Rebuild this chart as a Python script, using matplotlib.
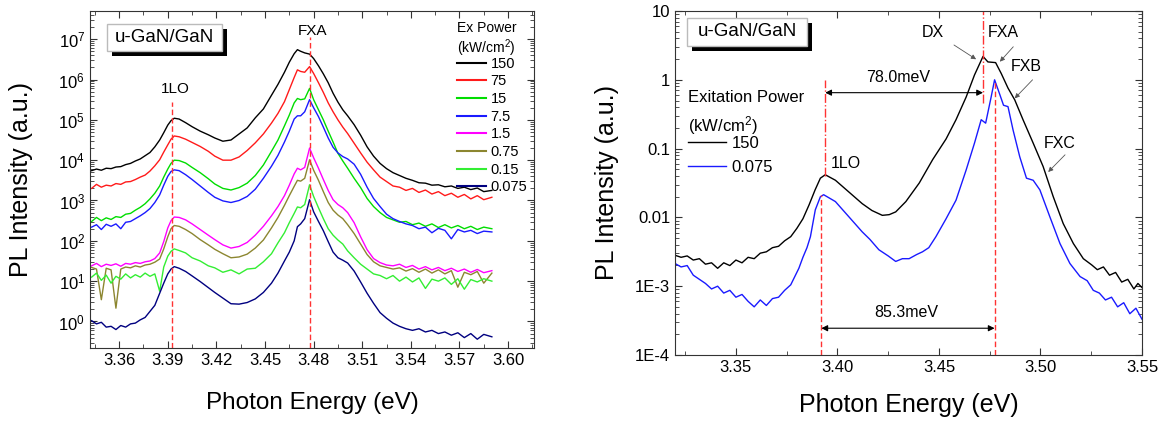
import numpy as np
import matplotlib
matplotlib.use("Agg")
import matplotlib.pyplot as plt
from matplotlib.ticker import MultipleLocator, FixedLocator, FixedFormatter, LogLocator, NullFormatter
from matplotlib.lines import Line2D
from matplotlib.patches import Rectangle

plt.rcParams['font.family'] = ['Liberation Sans', 'DejaVu Sans']
plt.rcParams['mathtext.default'] = 'regular'

# ---- left panel: PL spectra vs excitation power (log10 of intensity)
energy_a = [3.343, 3.346, 3.349, 3.352, 3.355, 3.358, 3.361, 3.364, 3.367, 3.370,
            3.373, 3.376, 3.379, 3.382, 3.385, 3.3875, 3.390, 3.392, 3.394, 3.397,
            3.401, 3.405, 3.410, 3.415, 3.419, 3.424, 3.429, 3.434, 3.439, 3.444,
            3.449, 3.454, 3.458, 3.462, 3.465, 3.468, 3.470, 3.472, 3.4745, 3.4775,
            3.480, 3.483, 3.486, 3.489, 3.492, 3.495, 3.498, 3.501, 3.505, 3.509,
            3.513, 3.517, 3.521, 3.525, 3.529, 3.533, 3.537, 3.541, 3.545, 3.549,
            3.553, 3.557, 3.561, 3.565, 3.569, 3.573, 3.577, 3.581, 3.585, 3.590]
log_150 = [3.74, 3.78, 3.75, 3.80, 3.79, 3.83, 3.84, 3.89, 3.92, 3.98,
           4.03, 4.11, 4.19, 4.33, 4.50, 4.68, 4.87, 4.98, 5.04, 5.02,
           4.93, 4.83, 4.72, 4.63, 4.55, 4.47, 4.50, 4.65, 4.80, 5.05,
           5.27, 5.61, 5.88, 6.18, 6.43, 6.64, 6.74, 6.70, 6.66, 6.63,
           6.52, 6.34, 6.14, 5.92, 5.66, 5.44, 5.25, 5.10, 4.88, 4.62,
           4.33, 4.10, 3.92, 3.79, 3.69, 3.62, 3.55, 3.50, 3.44, 3.43,
           3.38, 3.39, 3.34, 3.36, 3.30, 3.33, 3.27, 3.31, 3.22, 3.25]
log_75 = [3.30, 3.40, 3.33, 3.38, 3.36, 3.42, 3.40, 3.46, 3.47, 3.52,
          3.58, 3.63, 3.73, 3.86, 4.01, 4.20, 4.38, 4.52, 4.60, 4.58,
          4.52, 4.44, 4.34, 4.22, 4.10, 4.00, 4.00, 4.08, 4.24, 4.43,
          4.65, 4.92, 5.16, 5.45, 5.75, 6.05, 6.24, 6.20, 6.18, 6.32,
          6.15, 5.92, 5.68, 5.42, 5.20, 5.00, 4.82, 4.66, 4.42, 4.18,
          3.95, 3.76, 3.58, 3.47, 3.36, 3.33, 3.25, 3.30, 3.20, 3.26,
          3.16, 3.22, 3.12, 3.18, 3.08, 3.15, 3.04, 3.12, 3.02, 3.08]
log_15 = [2.48, 2.58, 2.50, 2.57, 2.53, 2.60, 2.58, 2.66, 2.68, 2.76,
          2.83, 2.92, 3.04, 3.18, 3.36, 3.58, 3.78, 3.92, 4.00, 3.99,
          3.93, 3.82, 3.69, 3.54, 3.41, 3.30, 3.26, 3.32, 3.43, 3.62,
          3.88, 4.22, 4.50, 4.85, 5.12, 5.42, 5.53, 5.50, 5.52, 5.78,
          5.50, 5.25, 5.00, 4.72, 4.45, 4.17, 3.98, 3.80, 3.55, 3.32,
          3.05, 2.85, 2.70, 2.58, 2.52, 2.46, 2.48, 2.40, 2.44, 2.36,
          2.42, 2.33, 2.40, 2.32, 2.38, 2.30, 2.36, 2.28, 2.34, 2.30]
log_7p5 = [2.34, 2.40, 2.28, 2.41, 2.36, 2.42, 2.30, 2.46, 2.48, 2.55,
           2.62, 2.70, 2.80, 2.95, 3.14, 3.38, 3.60, 3.72, 3.76, 3.74,
           3.64, 3.52, 3.36, 3.20, 3.08, 2.99, 2.95, 3.00, 3.10, 3.28,
           3.55, 3.85, 4.12, 4.45, 4.72, 5.02, 5.10, 5.10, 5.20, 5.50,
           5.30, 5.08, 4.82, 4.55, 4.32, 4.18, 4.09, 4.03, 3.90, 3.65,
           3.33, 3.05, 2.85, 2.66, 2.55, 2.48, 2.42, 2.38, 2.30, 2.34,
           2.20, 2.31, 2.26, 2.05, 2.28, 2.22, 2.26, 2.18, 2.24, 2.22]
log_1p5 = [1.38, 1.44, 1.36, 1.42, 1.39, 1.43, 1.37, 1.44, 1.42, 1.46,
           1.44, 1.48, 1.50, 1.56, 1.70, 1.98, 2.32, 2.50, 2.59, 2.58,
           2.52, 2.42, 2.28, 2.14, 2.03, 1.90, 1.82, 1.86, 1.96, 2.14,
           2.36, 2.62, 2.85, 3.12, 3.38, 3.66, 3.80, 3.76, 3.82, 4.30,
           4.06, 3.80, 3.52, 3.25, 3.02, 2.90, 2.82, 2.70, 2.45, 2.10,
           1.78, 1.56, 1.46, 1.40, 1.38, 1.42, 1.34, 1.39, 1.30, 1.36,
           1.28, 1.34, 1.26, 1.32, 1.24, 1.30, 1.22, 1.29, 1.21, 1.26]
log_0p75 = [1.34, 1.30, 0.54, 1.32, 1.28, 0.33, 1.30, 1.35, 1.33, 1.38,
            1.35, 1.40, 1.42, 1.47, 1.55, 1.80, 2.10, 2.30, 2.38, 2.36,
            2.28, 2.18, 2.03, 1.90, 1.79, 1.68, 1.58, 1.60, 1.67, 1.82,
            2.02, 2.32, 2.58, 2.88, 3.12, 3.35, 3.50, 3.48, 3.55, 4.01,
            3.75, 3.50, 3.22, 2.95, 2.76, 2.64, 2.55, 2.40, 2.18, 1.92,
            1.66, 1.48, 1.38, 1.34, 1.30, 1.33, 1.25, 1.31, 1.22, 1.30,
            1.20, 1.28, 1.18, 1.26, 0.85, 1.22, 1.16, 1.24, 0.95, 1.20]
log_0p15 = [1.10, 1.20, 1.02, 1.15, 0.95, 1.12, 1.05, 1.18, 1.08, 1.16,
            1.10, 1.20, 1.12, 1.18, 0.75, 1.35, 1.62, 1.74, 1.80, 1.76,
            1.70, 1.58, 1.50, 1.38, 1.33, 1.22, 1.28, 1.18, 1.30, 1.32,
            1.48, 1.68, 1.95, 2.20, 2.45, 2.68, 2.84, 2.82, 2.90, 3.39,
            3.10, 2.82, 2.55, 2.30, 2.14, 2.02, 1.92, 1.75, 1.58, 1.42,
            1.30, 1.18, 1.14, 1.06, 1.14, 1.00, 1.10, 0.98, 1.08, 0.82,
            1.05, 1.00, 1.08, 0.92, 1.06, 0.80, 1.04, 0.98, 1.06, 1.00]
log_0p075 = [0.02, -0.06, -0.02, -0.14, -0.12, -0.20, -0.10, -0.14, -0.06, -0.04,
             0.04, 0.10, 0.25, 0.40, 0.70, 0.95, 1.18, 1.30, 1.36, 1.32,
             1.24, 1.13, 0.99, 0.84, 0.72, 0.58, 0.44, 0.43, 0.47, 0.56,
             0.72, 0.95, 1.20, 1.50, 1.72, 2.00, 2.35, 2.42, 2.55, 3.02,
             2.72, 2.48, 2.25, 1.98, 1.72, 1.58, 1.52, 1.45, 1.25, 0.98,
             0.70, 0.45, 0.22, 0.08, -0.04, -0.12, -0.18, -0.22, -0.18, -0.26,
             -0.22, -0.30, -0.26, -0.34, -0.28, -0.40, -0.30, -0.44, -0.32, -0.38]
powers_a = ['150', '75', '15', '7.5', '1.5', '0.75', '0.15', '0.075']
colors_a = ['black', '#ff1a1a', '#00dd00', '#1a1aff', '#ff00ff', '#8c8630', '#33ee33', '#000080']
series_a = [log_150, log_75, log_15, log_7p5, log_1p5, log_0p75, log_0p15, log_0p075]

# ---- right panel: two powers
energy_b150 = [3.3200, 3.3230, 3.3260, 3.3290, 3.3320, 3.3350, 3.3380, 3.3410, 3.3440, 3.3470,
               3.3500, 3.3530, 3.3560, 3.3590, 3.3620, 3.3650, 3.3680, 3.3710, 3.3740, 3.3770,
               3.3800, 3.3830, 3.3860, 3.3890, 3.3916, 3.3940, 3.3990, 3.4056, 3.4122, 3.4170,
               3.4221, 3.4255, 3.4287, 3.4337, 3.4403, 3.4469, 3.4535, 3.4584, 3.4634, 3.4675,
               3.4717, 3.4741, 3.4779, 3.4807, 3.4840, 3.4873, 3.4914, 3.4964, 3.5013, 3.5063,
               3.5112, 3.5162, 3.5211, 3.5252, 3.5280, 3.5310, 3.5340, 3.5370, 3.5400, 3.5430,
               3.5460, 3.5480, 3.5500]
log_b150 = [-2.55, -2.58, -2.56, -2.62, -2.60, -2.68, -2.66, -2.74, -2.66, -2.70,
            -2.62, -2.66, -2.58, -2.60, -2.52, -2.50, -2.44, -2.42, -2.34, -2.28,
            -2.16, -2.02, -1.82, -1.60, -1.43, -1.38, -1.46, -1.63, -1.80, -1.90,
            -1.97, -1.96, -1.92, -1.77, -1.50, -1.16, -0.86, -0.58, -0.25, 0.07,
            0.34, 0.26, 0.25, 0.09, -0.12, -0.29, -0.58, -0.92, -1.26, -1.70,
            -2.09, -2.38, -2.60, -2.69, -2.76, -2.72, -2.84, -2.80, -2.94, -2.90,
            -3.04, -2.96, -3.02]
energy_b0075 = [3.3200, 3.3230, 3.3260, 3.3290, 3.3320, 3.3350, 3.3380, 3.3410, 3.3440, 3.3470,
                3.3500, 3.3530, 3.3560, 3.3590, 3.3620, 3.3650, 3.3680, 3.3710, 3.3740, 3.3770,
                3.3790, 3.3810, 3.3830, 3.3850, 3.3867, 3.3891, 3.3916, 3.3932, 3.3990, 3.4056,
                3.4122, 3.4160, 3.4204, 3.4250, 3.4287, 3.4320, 3.4353, 3.4390, 3.4419, 3.4450,
                3.4485, 3.4535, 3.4584, 3.4634, 3.4675, 3.4708, 3.4730, 3.4757, 3.4774, 3.4798,
                3.4818, 3.4840, 3.4865, 3.4898, 3.4931, 3.4964, 3.4997, 3.5046, 3.5096, 3.5145,
                3.5195, 3.5230, 3.5260, 3.5290, 3.5320, 3.5350, 3.5380, 3.5410, 3.5440, 3.5470,
                3.5500]
log_b0075 = [-2.67, -2.72, -2.70, -2.84, -2.90, -2.96, -3.04, -3.00, -3.10, -3.06,
             -3.16, -3.12, -3.22, -3.30, -3.20, -3.28, -3.18, -3.16, -3.06, -2.98,
             -2.86, -2.74, -2.58, -2.44, -2.28, -1.89, -1.70, -1.67, -1.77, -1.99,
             -2.21, -2.32, -2.47, -2.56, -2.64, -2.60, -2.60, -2.54, -2.50, -2.44,
             -2.28, -2.02, -1.75, -1.31, -0.92, -0.58, -0.63, -0.25, 0.00, -0.20,
             -0.37, -0.39, -0.73, -1.12, -1.43, -1.46, -1.60, -1.99, -2.38, -2.67,
             -2.86, -2.92, -3.06, -3.10, -3.20, -3.16, -3.30, -3.24, -3.40, -3.32,
             -3.48]

fig = plt.figure(figsize=(11.58, 4.24), dpi=100)
ax1 = fig.add_axes([90 / 1158, 1 - 348 / 424, 444 / 1158, 337 / 424])
ax2 = fig.add_axes([675 / 1158, 1 - 355 / 424, 467 / 1158, 344 / 424])


def add_box(ax, x0, y0, w, h, dx, dy):
    ax.add_patch(Rectangle((x0 + dx, y0 - dy), w, h, transform=ax.transAxes,
                           facecolor='black', edgecolor='none', zorder=5))
    ax.add_patch(Rectangle((x0, y0), w, h, transform=ax.transAxes,
                           facecolor='white', edgecolor='#bbbbbb', lw=1, zorder=6))
    ax.text(x0 + w / 2, y0 + h / 2, 'u-GaN/GaN', transform=ax.transAxes,
            ha='center', va='center', fontsize=13.5, zorder=7)


def style(ax):
    ax.tick_params(which='both', direction='in', top=True, right=True, labelsize=12,
                   color='#333333')
    ax.tick_params(which='major', length=5)
    ax.tick_params(which='minor', length=3)
    for s in ax.spines.values():
        s.set_color('#333333')


# left panel
for vals, c in zip(series_a, colors_a):
    ax1.plot(energy_a, 10 ** np.array(vals), color=c, lw=1.0)
ax1.set_yscale('log')
ax1.set_xlim(3.342, 3.616)
ax1.set_ylim(0.22, 5e7)
ax1.xaxis.set_major_locator(MultipleLocator(0.03))
ax1.xaxis.set_minor_locator(MultipleLocator(0.015))
ax1.xaxis.set_major_formatter(plt.FormatStrFormatter('%.2f'))
ax1.yaxis.set_major_locator(FixedLocator([10.0 ** k for k in range(0, 8)]))
ax1.yaxis.set_major_formatter(FixedFormatter([r'$10^{%d}$' % k for k in range(0, 8)]))
ax1.yaxis.set_minor_locator(LogLocator(base=10, subs=np.arange(2, 10), numticks=20))
ax1.yaxis.set_minor_formatter(NullFormatter())
style(ax1)
ax1.plot([3.3925, 3.3925], [0.22, 10 ** 5.44], color='#ff3333', lw=1, ls=(0, (4, 2)))
ax1.plot([3.4775, 3.4775], [0.22, 10 ** 7.06], color='#ff3333', lw=1, ls=(0, (4, 2)))
ax1.text(3.3944, 10 ** 5.77, '1LO', ha='center', va='center', fontsize=11)
ax1.text(3.4795, 10 ** 7.2, 'FXA', ha='center', va='center', fontsize=11)
add_box(ax1, 0.0383, 0.8813, 0.259, 0.0801, 0.0113, 0.0148)
ax1.text(0.8266, 0.950, 'Ex Power', transform=ax1.transAxes, ha='left', va='center',
         fontsize=10)
ax1.text(0.8266, 0.890, '(kW/cm$^2$)', transform=ax1.transAxes, ha='left', va='center',
         fontsize=10)
handles = [Line2D([], [], color=c, lw=1.5) for c in colors_a]
ax1.legend(handles, powers_a, loc='upper left', bbox_to_anchor=(0.8266, 0.864),
           frameon=False, fontsize=10.5, handlelength=2.0, handletextpad=0.3,
           labelspacing=0.25, borderpad=0, borderaxespad=0)
ax1.set_xlabel('Photon Energy (eV)', fontsize=17.5)
ax1.set_ylabel('PL Intensity (a.u.)', fontsize=18)
ax1.yaxis.set_label_coords(-0.128, 0.5)
ax1.xaxis.set_label_coords(0.5, -0.132)

# right panel
ax2.plot(energy_b150, 10 ** np.array(log_b150), color='black', lw=1.0)
ax2.plot(energy_b0075, 10 ** np.array(log_b0075), color='#1a1aff', lw=1.0)
ax2.set_yscale('log')
ax2.set_xlim(3.32, 3.55)
ax2.set_ylim(1e-4, 10)
ax2.xaxis.set_major_locator(MultipleLocator(0.05))
ax2.xaxis.set_minor_locator(MultipleLocator(0.025))
ax2.xaxis.set_major_formatter(plt.FormatStrFormatter('%.2f'))
ax2.yaxis.set_major_locator(FixedLocator([1e-4, 1e-3, 1e-2, 1e-1, 1, 10]))
ax2.yaxis.set_major_formatter(FixedFormatter(['1E-4', '1E-3', '0.01', '0.1', '1', '10']))
ax2.yaxis.set_minor_locator(LogLocator(base=10, subs=np.arange(2, 10), numticks=20))
ax2.yaxis.set_minor_formatter(NullFormatter())
style(ax2)
ax2.plot([3.4717, 3.4717], [10 ** -0.337, 10], color='#ff3333', lw=1, ls='-.')
ax2.plot([3.394, 3.394], [10 ** -1.40, 1.0], color='#ff3333', lw=1, ls='-.')
ax2.plot([3.3921, 3.3921], [1e-4, 10 ** -1.68], color='#ff3333', lw=1, ls=(0, (4, 2)))
ax2.plot([3.4774, 3.4774], [1e-4, 10 ** -0.03], color='#ff3333', lw=1, ls=(0, (4, 2)))
arr = dict(arrowstyle='<|-|>', color='black', lw=0.8, mutation_scale=9, shrinkA=0, shrinkB=0)
ax2.annotate('', xy=(3.394, 0.65), xytext=(3.4717, 0.65), arrowprops=arr)
ax2.annotate('', xy=(3.3921, 2.45e-4), xytext=(3.4774, 2.45e-4), arrowprops=arr)
ax2.text(3.430, 1.07, '78.0meV', ha='center', va='center', fontsize=11.5)
ax2.text(3.434, 4.1e-4, '85.3meV', ha='center', va='center', fontsize=11.5)
ax2.text(3.404, 0.06, '1LO', ha='center', va='center', fontsize=11.5)
pointer = dict(arrowstyle='-|>', color='#555555', lw=0.6, mutation_scale=7, shrinkA=0, shrinkB=0)
ax2.text(3.447, 4.8, 'DX', ha='center', va='center', fontsize=11.5)
ax2.annotate('', xy=(3.4683, 10 ** 0.298), xytext=(3.4574, 10 ** 0.506), arrowprops=pointer)
ax2.text(3.4815, 4.8, 'FXA', ha='center', va='center', fontsize=11.5)
ax2.annotate('', xy=(3.480, 10 ** 0.263), xytext=(3.4866, 10 ** 0.48), arrowprops=pointer)
ax2.text(3.4931, 1.55, 'FXB', ha='center', va='center', fontsize=11.5)
ax2.annotate('', xy=(3.4873, 10 ** -0.27), xytext=(3.4961, 10 ** 0.0), arrowprops=pointer)
ax2.text(3.5096, 0.12, 'FXC', ha='center', va='center', fontsize=11.5)
ax2.annotate('', xy=(3.5038, 10 ** -1.34), xytext=(3.5121, 10 ** -1.09), arrowprops=pointer)
add_box(ax2, 0.0257, 0.8983, 0.257, 0.0814, 0.0107, 0.0145)
ax2.text(0.028, 0.750, 'Exitation Power', transform=ax2.transAxes, ha='left', va='center',
         fontsize=12)
ax2.text(0.028, 0.668, '(kW/cm$^2$)', transform=ax2.transAxes, ha='left', va='center',
         fontsize=12)
handles2 = [Line2D([], [], color='black', lw=1.0), Line2D([], [], color='#1a1aff', lw=1.0)]
ax2.legend(handles2, ['150', '0.075'], loc='upper left', bbox_to_anchor=(0.028, 0.636),
           frameon=False, fontsize=12, handlelength=2.3, handletextpad=0.3,
           labelspacing=0.5, borderpad=0, borderaxespad=0)
ax2.set_xlabel('Photon Energy (eV)', fontsize=18)
ax2.set_ylabel('PL Intensity (a.u.)', fontsize=18)
ax2.yaxis.set_label_coords(-0.120, 0.5)
ax2.xaxis.set_label_coords(0.5, -0.11)

fig.savefig('out.png', dpi=100)
